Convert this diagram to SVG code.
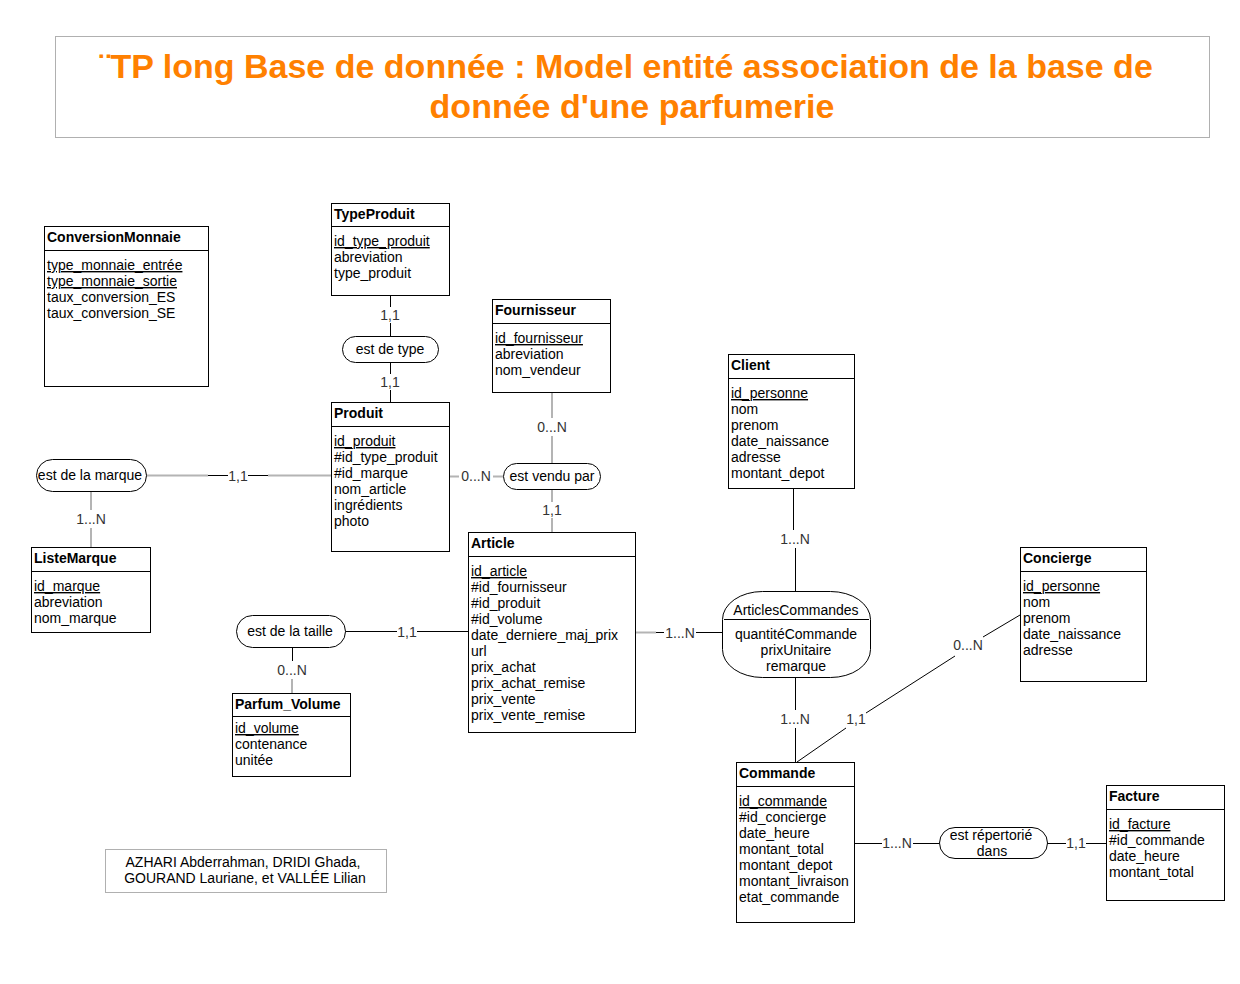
<svg xmlns="http://www.w3.org/2000/svg" width="1240" height="984" viewBox="0 0 1240 984">
<style>
.box{fill:#fff;stroke:#000;stroke-width:1}
.sep{stroke:#000;stroke-width:1}
.t{font-family:"Liberation Sans",Arial,sans-serif;font-size:14px;font-weight:bold;fill:#000}
.a{font-family:"Liberation Sans",Arial,sans-serif;font-size:14px;fill:#000}
.u{text-decoration:underline}
.asso{fill:#fff;stroke:#000;stroke-width:1}
.ac{font-family:"Liberation Sans",Arial,sans-serif;font-size:14px;fill:#000;text-anchor:middle}
.lbl{font-family:"Liberation Sans",Arial,sans-serif;font-size:14px;fill:#333;text-anchor:middle;dominant-baseline:central}
.k{stroke:#000;stroke-width:1;fill:none}
.g{stroke:#b4b4b4;stroke-width:2;fill:none}
.ttl{font-family:"Liberation Sans",Arial,sans-serif;font-size:34px;font-weight:bold;fill:#ff8000;text-anchor:middle}
</style>
<rect width="1240" height="984" fill="#fff"/>
<g id="title">
<rect x="55.5" y="36.5" width="1154" height="101" fill="#fff" stroke="#b0b0b0"/>
<text class="ttl" x="626" y="78">¨TP long Base de donnée : Model entité association de la base de</text>
<text class="ttl" x="632" y="118">donnée d'une parfumerie</text>
</g>
<g id="connectors">
<path class="k" d="M390.5 295V307M390.5 323V336M390.5 362V374M390.5 390V402"/>
<text class="lbl" x="390" y="315">1,1</text>
<text class="lbl" x="390" y="382">1,1</text>
<path class="g" d="M146 475.5H208M268 475.5H331"/>
<path class="k" d="M208 475.5H228M248 475.5H268"/>
<text class="lbl" x="238" y="476">1,1</text>
<path class="g" d="M91 491V510M91 528V547"/>
<text class="lbl" x="91" y="519">1...N</text>
<path class="g" d="M449 476.5H459M493 476.5H503"/>
<text class="lbl" x="476" y="476">0...N</text>
<path class="g" d="M552 392V418M552 436V463"/>
<text class="lbl" x="552" y="427">0...N</text>
<path class="g" d="M552 489V502M552 518V532"/>
<text class="lbl" x="552" y="510">1,1</text>
<path class="k" d="M793.5 488V530"/>
<path class="k" d="M795.5 548V591" stroke="#555"/>
<text class="lbl" x="795" y="539">1...N</text>
<path class="g" d="M635 632.5H656"/>
<path class="k" d="M656 632.5H664M696 632.5H722"/>
<text class="lbl" x="680" y="633">1...N</text>
<path class="k" d="M345 631.5H397M417 631.5H468"/>
<text class="lbl" x="407" y="632">1,1</text>
<path class="k" d="M292.5 647V661"/>
<path class="g" d="M292 679V693"/>
<text class="lbl" x="292" y="670">0...N</text>
<path class="k" d="M795.5 677V710M795.5 728V762"/>
<text class="lbl" x="795" y="719">1...N</text>
<path class="k" d="M797 762L846 728M866 713L955 656M983 637L1020 615"/>
<text class="lbl" x="856" y="719">1,1</text>
<text class="lbl" x="968" y="645">0...N</text>
<path class="k" d="M854 843.5H882M913 843.5H939"/>
<text class="lbl" x="897" y="843">1...N</text>
<path class="k" d="M1047 843.5H1066M1086 843.5H1106"/>
<text class="lbl" x="1076" y="843">1,1</text>
</g>
<g id="ConversionMonnaie">
<rect class="box" x="44.5" y="226.5" width="164" height="160"/>
<line class="sep" x1="44.5" y1="250.5" x2="208.5" y2="250.5"/>
<text class="t" x="47" y="242">ConversionMonnaie</text>
<text class="a u" x="47" y="270">type_monnaie_entrée </text>
<text class="a u" x="47" y="286">type_monnaie_sortie</text>
<text class="a" x="47" y="302">taux_conversion_ES</text>
<text class="a" x="47" y="318">taux_conversion_SE</text>
</g>
<g id="TypeProduit">
<rect class="box" x="331.5" y="203.5" width="118" height="92"/>
<line class="sep" x1="331.5" y1="226.5" x2="449.5" y2="226.5"/>
<text class="t" x="334" y="219">TypeProduit</text>
<text class="a u" x="334" y="246">id_type_produit</text>
<text class="a" x="334" y="262">abreviation</text>
<text class="a" x="334" y="278">type_produit</text>
</g>
<g id="est_de_type">
<rect class="asso" x="342.5" y="336.5" width="96" height="26" rx="13"/>
<text class="ac" x="390" y="354">est de type</text>
</g>
<g id="Produit">
<rect class="box" x="331.5" y="402.5" width="118" height="149"/>
<line class="sep" x1="331.5" y1="426.5" x2="449.5" y2="426.5"/>
<text class="t" x="334" y="418">Produit</text>
<text class="a u" x="334" y="446">id_produit</text>
<text class="a" x="334" y="462">#id_type_produit</text>
<text class="a" x="334" y="478">#id_marque</text>
<text class="a" x="334" y="494">nom_article</text>
<text class="a" x="334" y="510">ingrédients</text>
<text class="a" x="334" y="526">photo</text>
</g>
<g id="est_de_la_marque">
<rect class="asso" x="36.5" y="459.5" width="110" height="32" rx="16"/>
<text class="ac" x="90" y="480">est de la marque</text>
</g>
<g id="ListeMarque">
<rect class="box" x="31.5" y="547.5" width="119" height="85"/>
<line class="sep" x1="31.5" y1="571.5" x2="150.5" y2="571.5"/>
<text class="t" x="34" y="563">ListeMarque</text>
<text class="a u" x="34" y="591">id_marque</text>
<text class="a" x="34" y="607">abreviation</text>
<text class="a" x="34" y="623">nom_marque</text>
</g>
<g id="Fournisseur">
<rect class="box" x="492.5" y="299.5" width="118" height="93"/>
<line class="sep" x1="492.5" y1="323.5" x2="610.5" y2="323.5"/>
<text class="t" x="495" y="315">Fournisseur</text>
<text class="a u" x="495" y="343">id_fournisseur</text>
<text class="a" x="495" y="359">abreviation</text>
<text class="a" x="495" y="375">nom_vendeur</text>
</g>
<g id="est_vendu_par">
<rect class="asso" x="503.5" y="463.5" width="97" height="26" rx="13"/>
<text class="ac" x="552" y="481">est vendu par</text>
</g>
<g id="Client">
<rect class="box" x="728.5" y="354.5" width="126" height="134"/>
<line class="sep" x1="728.5" y1="378.5" x2="854.5" y2="378.5"/>
<text class="t" x="731" y="370">Client</text>
<text class="a u" x="731" y="398">id_personne</text>
<text class="a" x="731" y="414">nom</text>
<text class="a" x="731" y="430">prenom</text>
<text class="a" x="731" y="446">date_naissance</text>
<text class="a" x="731" y="462">adresse</text>
<text class="a" x="731" y="478">montant_depot</text>
</g>
<g id="Article">
<rect class="box" x="468.5" y="532.5" width="167" height="200"/>
<line class="sep" x1="468.5" y1="556.5" x2="635.5" y2="556.5"/>
<text class="t" x="471" y="548">Article</text>
<text class="a u" x="471" y="576">id_article</text>
<text class="a" x="471" y="592">#id_fournisseur</text>
<text class="a" x="471" y="608">#id_produit</text>
<text class="a" x="471" y="624">#id_volume</text>
<text class="a" x="471" y="640">date_derniere_maj_prix</text>
<text class="a" x="471" y="656">url</text>
<text class="a" x="471" y="672">prix_achat</text>
<text class="a" x="471" y="688">prix_achat_remise</text>
<text class="a" x="471" y="704">prix_vente</text>
<text class="a" x="471" y="720">prix_vente_remise</text>
</g>
<g id="est_de_la_taille">
<rect class="asso" x="236.5" y="615.5" width="109" height="32" rx="16"/>
<text class="ac" x="290" y="636">est de la taille</text>
</g>
<g id="Parfum_Volume">
<rect class="box" x="232.5" y="693.5" width="118" height="83"/>
<line class="sep" x1="232.5" y1="716.5" x2="350.5" y2="716.5"/>
<text class="t" x="235" y="709">Parfum_Volume</text>
<text class="a u" x="235" y="733">id_volume</text>
<text class="a" x="235" y="749">contenance</text>
<text class="a" x="235" y="765">unitée</text>
</g>
<g id="ArticlesCommandes">
<rect class="asso" x="722.5" y="591.5" width="148" height="86" rx="40" ry="28"/>
<line class="sep" x1="724" y1="619.5" x2="869" y2="619.5"/>
<text class="ac" x="796" y="615">ArticlesCommandes</text>
<text class="ac" x="796" y="639">quantitéCommande</text>
<text class="ac" x="796" y="655">prixUnitaire</text>
<text class="ac" x="796" y="671">remarque</text>
</g>
<g id="Concierge">
<rect class="box" x="1020.5" y="547.5" width="126" height="134"/>
<line class="sep" x1="1020.5" y1="571.5" x2="1146.5" y2="571.5"/>
<text class="t" x="1023" y="563">Concierge</text>
<text class="a u" x="1023" y="591">id_personne</text>
<text class="a" x="1023" y="607">nom</text>
<text class="a" x="1023" y="623">prenom</text>
<text class="a" x="1023" y="639">date_naissance</text>
<text class="a" x="1023" y="655">adresse</text>
</g>
<g id="Commande">
<rect class="box" x="736.5" y="762.5" width="118" height="160"/>
<line class="sep" x1="736.5" y1="786.5" x2="854.5" y2="786.5"/>
<text class="t" x="739" y="778">Commande</text>
<text class="a u" x="739" y="806">id_commande</text>
<text class="a" x="739" y="822">#id_concierge</text>
<text class="a" x="739" y="838">date_heure</text>
<text class="a" x="739" y="854">montant_total</text>
<text class="a" x="739" y="870">montant_depot</text>
<text class="a" x="739" y="886">montant_livraison</text>
<text class="a" x="739" y="902">etat_commande</text>
</g>
<g id="est_repertorie_dans">
<rect class="asso" x="939.5" y="827.5" width="108" height="31" rx="15.5"/>
<text class="ac" x="991" y="840">est répertorié</text>
<text class="ac" x="992" y="856">dans</text>
</g>
<g id="Facture">
<rect class="box" x="1106.5" y="785.5" width="118" height="115"/>
<line class="sep" x1="1106.5" y1="809.5" x2="1224.5" y2="809.5"/>
<text class="t" x="1109" y="801">Facture</text>
<text class="a u" x="1109" y="829">id_facture</text>
<text class="a" x="1109" y="845">#id_commande</text>
<text class="a" x="1109" y="861">date_heure</text>
<text class="a" x="1109" y="877">montant_total</text>
</g>
<g id="authors">
<rect x="105.5" y="849.5" width="281" height="43" fill="#fff" stroke="#b0b0b0"/>
<text class="ac" x="243" y="867">AZHARI Abderrahman, DRIDI Ghada,</text>
<text class="ac" x="245" y="883">GOURAND Lauriane, et VALLÉE Lilian</text>
</g>
</svg>
